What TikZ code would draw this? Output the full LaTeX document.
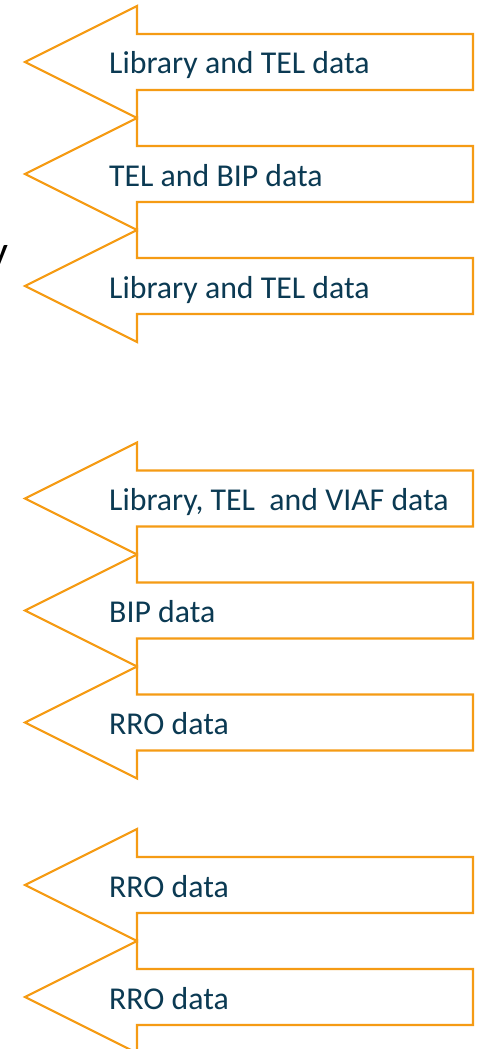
\documentclass[tikz,border=0pt]{standalone}
\usepackage{fontspec}
\setmainfont{Carlito}
\definecolor{arrowor}{RGB}{245,155,20}
\definecolor{txtblue}{RGB}{11,58,83}
\tikzset{
  arrowshape/.style={draw=arrowor, line width=2.2pt, line join=miter, fill=white},
  lbl/.style={anchor=base west, inner sep=0pt, text=txtblue, font=\fontsize{31.8}{36}\selectfont},
}
\begin{document}
\begin{tikzpicture}[x=1pt,y=-1pt]
\useasboundingbox (0,0) rectangle (478,1049);
\node[anchor=base east, inner sep=0pt, font=\fontsize{44}{50}\selectfont] (ycut) at (9,266) {y};
\foreach \yc/\txt/\nm in {62/{Library and TEL data}/a1, 174/{TEL and BIP data}/a2, 286/{Library and TEL data}/a3,
  498.5/{Library, TEL\ \ and VIAF data}/b1, 610.5/{BIP data}/b2, 722.5/{RRO data}/b3,
  885/{RRO data}/c1, 997/{RRO data}/c2}{
  \draw[arrowshape] (25,\yc) -- (137,\yc-56) -- (137,\yc-28) -- (473,\yc-28) -- (473,\yc+28)
     -- (137,\yc+28) -- (137,\yc+56) -- cycle;
  \node[lbl] (\nm) at (109,\yc+12) {\txt};
}
\end{tikzpicture}
\end{document}
